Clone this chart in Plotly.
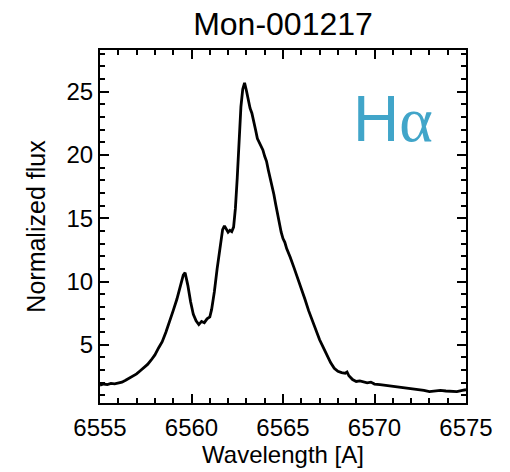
import plotly.graph_objects as go

wavelength = [
    6555.0, 6555.2, 6555.4, 6555.6, 6555.8, 6556.0, 6556.2, 6556.4, 6556.6, 6556.8,
    6557.0, 6557.2, 6557.4, 6557.6, 6557.8, 6558.0, 6558.2, 6558.4, 6558.6, 6558.8,
    6559.0, 6559.2, 6559.4, 6559.55, 6559.65, 6559.8, 6559.95, 6560.1, 6560.25, 6560.4,
    6560.55, 6560.7, 6560.85, 6561.0, 6561.1, 6561.25, 6561.4, 6561.55, 6561.7, 6561.8,
    6561.9, 6562.0, 6562.1, 6562.2, 6562.3, 6562.4, 6562.5, 6562.6, 6562.7, 6562.8,
    6562.9, 6563.0, 6563.1, 6563.2, 6563.3, 6563.4, 6563.5, 6563.6, 6563.7, 6563.8,
    6563.9, 6564.0, 6564.1, 6564.2, 6564.3, 6564.4, 6564.5, 6564.6, 6564.7, 6564.8,
    6564.9, 6565.0, 6565.1, 6565.2, 6565.3, 6565.4, 6565.6, 6565.8, 6566.0, 6566.2,
    6566.4, 6566.6, 6566.8, 6567.0, 6567.2, 6567.4, 6567.6, 6567.8, 6568.0, 6568.2,
    6568.4, 6568.5, 6568.6, 6568.8, 6569.0, 6569.2, 6569.4, 6569.6, 6569.8, 6570.0,
    6570.3, 6570.6, 6570.9, 6571.2, 6571.5, 6571.8, 6572.1, 6572.4, 6572.7, 6573.0,
    6573.3, 6573.6, 6573.9, 6574.2, 6574.5, 6574.8, 6575.0,
]
flux = [
    1.80, 1.90, 1.85, 1.95, 1.92, 2.00, 2.05, 2.20, 2.35, 2.55,
    2.70, 2.95, 3.20, 3.45, 3.80, 4.20, 4.75, 5.25, 6.00, 6.80,
    7.70, 8.60, 9.60, 10.50, 10.70, 9.70, 8.40, 7.40, 6.90, 6.60,
    6.85, 6.75, 7.05, 7.20, 7.80, 9.20, 11.00, 12.60, 14.10, 14.40,
    14.10, 13.90, 14.05, 13.95, 14.30, 15.80, 18.20, 21.00, 23.80, 25.20,
    25.70, 25.10, 24.40, 23.70, 23.30, 22.50, 22.00, 21.30, 21.00, 20.80,
    20.40, 19.90, 19.50, 18.80, 18.20, 17.40, 16.90, 16.10, 15.30, 14.60,
    13.90, 13.40, 13.10, 12.60, 12.30, 11.90, 11.10, 10.30, 9.40, 8.60,
    7.70, 6.90, 6.10, 5.40, 4.80, 4.20, 3.60, 3.15, 2.90, 2.80,
    2.75, 2.85, 2.55, 2.25, 2.10, 2.15, 2.05, 2.00, 2.05, 1.90,
    1.85, 1.80, 1.70, 1.65, 1.60, 1.55, 1.55, 1.45, 1.40, 1.30,
    1.35, 1.40, 1.35, 1.35, 1.30, 1.40, 1.45,
]
x_ticks = [6555, 6560, 6565, 6570, 6575]
y_ticks = [5, 10, 15, 20, 25]
title_text = "Mon-001217"
x_label = "Wavelength [A]"
y_label = "Normalized flux"
line_label = "H<span style='font-family:Liberation Serif'>α</span>"

FONT = "Liberation Sans, Arial, sans-serif"

fig = go.Figure()
fig.add_trace(go.Scatter(
    x=wavelength, y=flux, mode="lines",
    line=dict(color="black", width=2.8),
    showlegend=False, hoverinfo="skip",
))

axis_common = dict(
    showgrid=False, zeroline=False,
    showline=True, linecolor="black", linewidth=2,
    mirror="ticks", ticks="inside", ticklen=9, tickwidth=2, tickcolor="black",
    tickfont=dict(family=FONT, size=24, color="black"),
)

fig.update_xaxes(
    range=[6555, 6575], tickvals=x_ticks, ticktext=[str(v) for v in x_ticks],
    minor=dict(dtick=1, ticks="inside", ticklen=5, tickwidth=1.5, tickcolor="black"),
    title=dict(text=x_label, font=dict(family=FONT, size=24, color="black"), standoff=0),
    ticklabelstandoff=2,
    **axis_common,
)
fig.update_yaxes(
    range=[0.4, 28.3], tickvals=y_ticks, ticktext=[str(v) for v in y_ticks],
    minor=dict(dtick=1, ticks="inside", ticklen=5, tickwidth=1.5, tickcolor="black"),
    title=dict(text=y_label, font=dict(family=FONT, size=25, color="black"), standoff=14),
    **axis_common,
)

fig.add_annotation(
    text=line_label, xref="paper", yref="paper", x=0.80, y=0.805,
    showarrow=False, font=dict(family=FONT, size=64, color="#41a5c9"),
    xanchor="center", yanchor="middle",
)

fig.update_layout(
    width=510, height=472,
    margin=dict(l=100, r=44, t=50, b=69, autoexpand=False),
    paper_bgcolor="white", plot_bgcolor="white",
    title=dict(text=title_text, x=0.5, xref="paper", y=1 - 24 / 472, yref="container",
               xanchor="center", yanchor="middle",
               font=dict(family=FONT, size=32, color="black")),
)

fig.write_html("out.html")
